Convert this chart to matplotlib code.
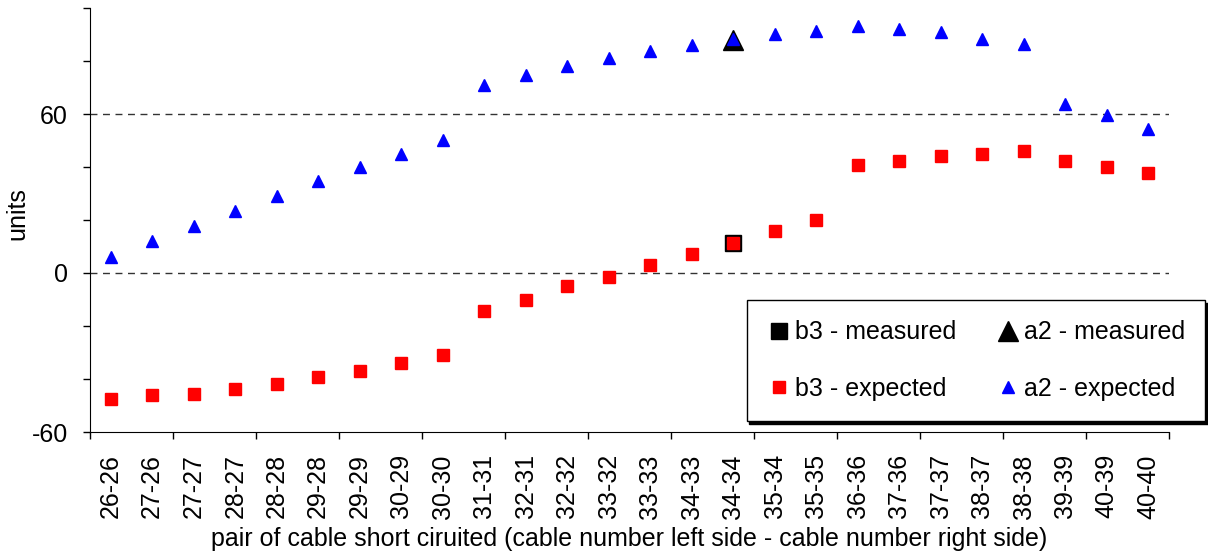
import matplotlib.pyplot as plt
import numpy as np

plt.rcParams['font.family'] = ['Liberation Sans', 'DejaVu Sans']
plt.rcParams['axes.unicode_minus'] = False

pairs = ["26-26", "27-26", "27-27", "28-27", "28-28", "29-28", "29-29", "30-29", "30-30",
         "31-31", "32-31", "32-32", "33-32", "33-33", "34-33", "34-34", "35-34", "35-35",
         "36-36", "37-36", "37-37", "38-37", "38-38", "39-39", "40-39", "40-40"]
a2_expected = [6.2, 11.9, 17.9, 23.3, 28.9, 34.6, 39.9, 44.8, 50.3,
               71.0, 74.7, 78.1, 81.2, 83.8, 86.0, 88.3, 90.3, 91.4,
               93.3, 92.1, 90.9, 88.4, 86.6, 63.7, 59.5, 54.5]
b3_expected = [-47.4, -46.2, -45.6, -43.7, -41.9, -39.1, -36.8, -33.8, -30.8,
               -14.4, -10.3, -5.0, -1.4, 2.9, 7.2, 11.4, 15.7, 20.0,
               40.6, 42.4, 44.3, 44.8, 46.1, 42.4, 40.0, 37.6]
measured_pair = "34-34"
b3_measured = 11.4
a2_measured = 88.0

x = np.arange(len(pairs))
xm = pairs.index(measured_pair)
fs = 18

fig = plt.figure(figsize=(12.08, 5.53), dpi=100)
ax = fig.add_axes([90/1208, 1-432/553, (1169-90)/1208, (432-8)/553])

# measured (big black) under the expected markers
ax.plot([xm], [b3_measured], ls='none', marker='s', ms=12, color='black', label='b3 - measured', zorder=3)
ax.plot([xm], [a2_measured], ls='none', marker='^', ms=14, color='black', label='a2 - measured', zorder=3)
ax.plot(x, b3_expected, ls='none', marker='s', ms=8, color='#ff0000', label='b3 - expected', zorder=4)
ax.plot(x, a2_expected, ls='none', marker='^', ms=9, color='#0000ff', label='a2 - expected', zorder=4)

ax.set_xlim(-0.5, len(pairs) - 0.5)
ax.set_ylim(-60, 100)
ax.set_yticks([-60, 0, 60])
ax.set_yticks(np.arange(-60, 101, 20), minor=True)
ax.set_xticks(x, pairs, rotation=90)
ax.set_xticks(np.arange(-0.5, len(pairs), 2), minor=True)
ax.tick_params(axis='x', which='major', length=0, pad=16, labelsize=fs)
ax.tick_params(axis='x', which='minor', length=5, width=1)
ax.tick_params(axis='y', which='both', length=5, width=1, pad=11, labelsize=fs)

for s in ['top', 'right']:
    ax.spines[s].set_visible(False)

for v in [0, 60]:
    ax.axhline(v, color='#333333', lw=1, ls=(0, (5, 4)), zorder=1)

ax.set_ylabel('units', fontsize=fs)
ax.yaxis.set_label_coords(-0.056, 0.516)
ax.set_xlabel('pair of cable short ciruited (cable number left side - cable number right side)',
              fontsize=fs, labelpad=6)

h, l = ax.get_legend_handles_labels()
order = [0, 2, 1, 3]
leg = fig.legend([h[i] for i in order], [l[i] for i in order], ncol=2,
                 loc='center', bbox_to_anchor=(976/1208, 1-360.5/553),
                 fontsize=fs, frameon=True, fancybox=False, shadow={'color': 'black', 'alpha': 1},
                 handlelength=1.0, handletextpad=0.15, columnspacing=1.55,
                 borderpad=0.8, labelspacing=1.3, edgecolor='black')
leg.get_frame().set_linewidth(1)
leg.get_frame().set_alpha(1)

fig.savefig('out.png', dpi=100)
